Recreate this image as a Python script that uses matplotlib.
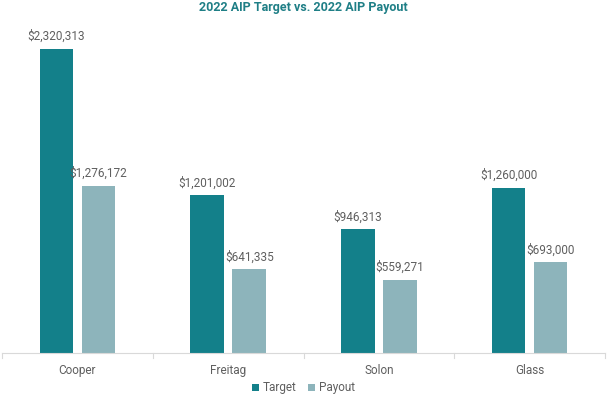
import matplotlib.pyplot as plt
import numpy as np

# data
names = ["Cooper", "Freitag", "Solon", "Glass"]
target = [2320313, 1201002, 946313, 1260000]
payout = [1276172, 641335, 559271, 693000]

target_color = "#13808A"
payout_color = "#8DB4BB"
text_color = "#5F5F5F"

plt.rcParams["font.family"] = ["Roboto", "DejaVu Sans"]

fig = plt.figure(figsize=(6.07, 3.96), dpi=100)
W, H = 607, 396
left, right, bottom, top = 2, 605, 353, 25
ax = fig.add_axes([left / W, 1 - bottom / H, (right - left) / W, (bottom - top) / H])

x = np.arange(len(names))
w = 0.222
off = 0.140
b1 = ax.bar(x - off, target, w, color=target_color, label="Target")
b2 = ax.bar(x + off, payout, w, color=payout_color, label="Payout")

for bars, vals in ((b1, target), (b2, payout)):
    for rect, v in zip(bars, vals):
        ax.annotate(f"${v:,.0f}", (rect.get_x() + rect.get_width() / 2, v),
                    xytext=(0, 4), textcoords="offset points",
                    ha="center", va="bottom", fontsize=8.5, color=text_color)

ax.set_xlim(-0.5, len(names) - 0.5)
ax.set_ylim(0, 2500000)
ax.set_yticks([])
ax.set_xticks(x)
ax.set_xticklabels(names, fontsize=8.5, color=text_color)
ax.tick_params(axis="x", length=0, pad=8)
# category separator ticks
for b in np.arange(-0.5, len(names), 1.0):
    ax.plot([b, b], [0, -0.015], transform=ax.get_xaxis_transform(),
            color="#D9D9D9", lw=0.8, clip_on=False)

for s in ["top", "right", "left"]:
    ax.spines[s].set_visible(False)
ax.spines["bottom"].set_color("#D9D9D9")
ax.spines["bottom"].set_linewidth(0.8)

fig.text(0.5, 1 - 8 / H, "2022 AIP Target vs. 2022 AIP Payout", ha="center",
         va="center", fontsize=9, fontweight="bold", color="#1F7F86")

fig.legend(handles=[b1, b2], loc="center", bbox_to_anchor=(0.5, 1 - 388 / H),
           ncol=2, frameon=False, fontsize=8.5, labelcolor=text_color,
           handlelength=0.6, handleheight=0.6, handletextpad=0.3, columnspacing=1.0)

fig.savefig("out.png", dpi=100)
